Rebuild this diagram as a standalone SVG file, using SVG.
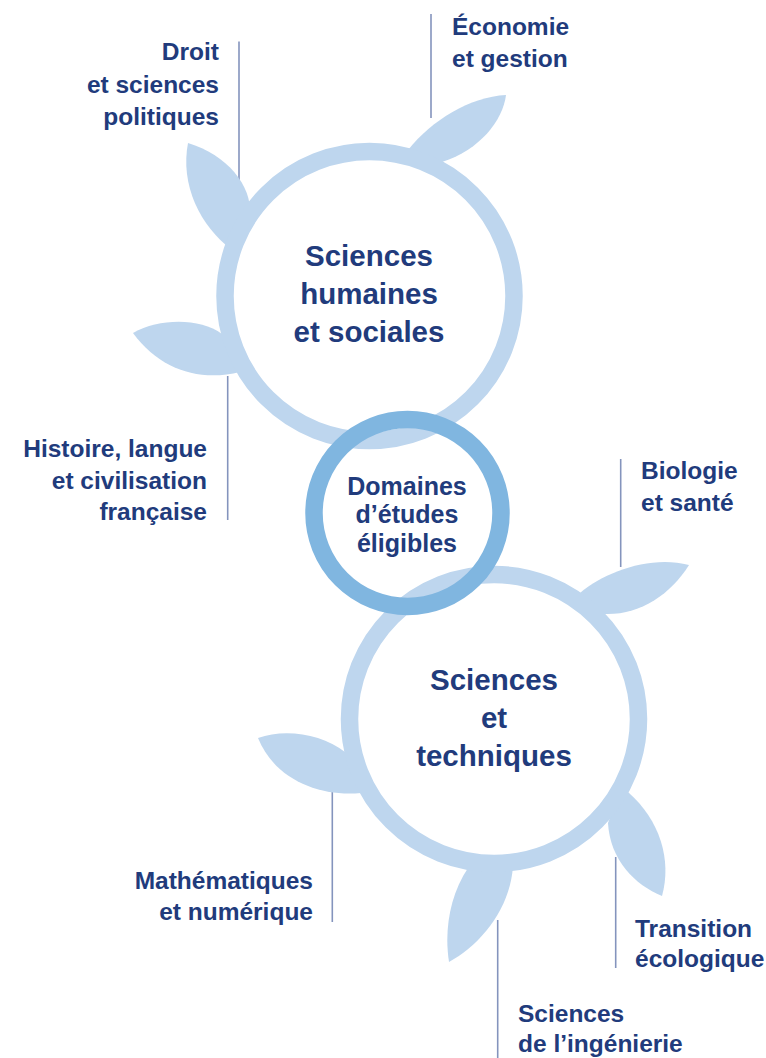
<svg xmlns="http://www.w3.org/2000/svg" width="766" height="1058" viewBox="0 0 766 1058">
<style>
  .ring { fill: none; stroke: #bed6ee; stroke-width: 17.5; }
  .ring-mid { fill: none; stroke: #80b6e0; stroke-width: 17.5; }
  .leaf { fill: #bed6ee; }
  .conn { stroke: #8494bd; stroke-width: 1.6; fill: none; }
  .lbl { font-family: "Liberation Sans", Arial, Helvetica, sans-serif; font-weight: bold; font-size: 24.5px; fill: #213b7c; }
  .big { font-family: "Liberation Sans", Arial, Helvetica, sans-serif; font-weight: bold; font-size: 29.5px; fill: #213b7c; text-anchor: middle; }
  .mid { font-family: "Liberation Sans", Arial, Helvetica, sans-serif; font-weight: bold; font-size: 25px; fill: #213b7c; text-anchor: middle; }
  .end { text-anchor: end; }
</style>
<rect width="766" height="1058" fill="#ffffff"/>

<g id="connectors">
  <line class="conn" x1="239" y1="41.5" x2="239" y2="182"/>
  <line class="conn" x1="431" y1="14" x2="431" y2="118"/>
  <line class="conn" x1="227.7" y1="376" x2="227.7" y2="520"/>
  <line class="conn" x1="620.7" y1="459" x2="620.7" y2="567"/>
  <line class="conn" x1="332.3" y1="787" x2="332.3" y2="922"/>
  <line class="conn" x1="615.7" y1="857" x2="615.7" y2="968"/>
  <line class="conn" x1="497.7" y1="920" x2="497.7" y2="1058"/>
</g>

<g id="node-shs">
  <path class="leaf" d="M188,143 C227,155 252,185 250,215 L232,250 C200,226 180,185 188,143 Z"/>
  <path class="leaf" d="M408,150 C432,120 470,97 506,95 C503,120 480,150 442,162 L425,160 Z"/>
  <path class="leaf" d="M133,333 C160,318 200,318 222,334 L240,350 L240,372 C200,382 160,370 133,333 Z"/>
  <circle class="ring" cx="369.5" cy="296" r="144.5"/>
  <text class="big" x="369" y="265.5">Sciences</text>
  <text class="big" x="369" y="303.5">humaines</text>
  <text class="big" x="369" y="341.5">et sociales</text>
</g>

<g id="node-st">
  <path class="leaf" d="M580,593 C605,572 650,555 689,565 C670,595 640,615 605,614 L592,612 Z"/>
  <path class="leaf" d="M258,738 C285,728 322,734 345,752 L358,780 L361,793 C320,797 275,780 258,738 Z"/>
  <path class="leaf" d="M608,823 C610,860 635,885 662,896 C672,860 660,820 628,792 L615,805 Z"/>
  <path class="leaf" d="M468,868 C450,895 444,930 449,962 C480,945 510,910 513,866 Z"/>
  <circle class="ring" cx="494" cy="719" r="144.5"/>
  <text class="big" x="494" y="689.5">Sciences</text>
  <text class="big" x="494" y="727.5">et</text>
  <text class="big" x="494" y="765.5">techniques</text>
</g>

<g id="node-domaines">
  <circle class="ring-mid" cx="407.5" cy="513" r="93.5"/>
  <text class="mid" x="407" y="494.5">Domaines</text>
  <text class="mid" x="407" y="523">d’études</text>
  <text class="mid" x="407" y="551.5">éligibles</text>
</g>

<g id="label-droit">
  <text class="lbl end" x="219" y="60">Droit</text>
  <text class="lbl end" x="219" y="92.5">et sciences</text>
  <text class="lbl end" x="219" y="124.5">politiques</text>
</g>
<g id="label-economie">
  <text class="lbl" x="452" y="35">Économie</text>
  <text class="lbl" x="452" y="67">et gestion</text>
</g>
<g id="label-histoire">
  <text class="lbl end" x="207" y="456.5">Histoire, langue</text>
  <text class="lbl end" x="207" y="488.5">et civilisation</text>
  <text class="lbl end" x="207" y="520">française</text>
</g>
<g id="label-biologie">
  <text class="lbl" x="641" y="479">Biologie</text>
  <text class="lbl" x="641" y="511">et santé</text>
</g>
<g id="label-maths">
  <text class="lbl end" x="313" y="889">Mathématiques</text>
  <text class="lbl end" x="313" y="920">et numérique</text>
</g>
<g id="label-transition">
  <text class="lbl" x="635" y="936.5">Transition</text>
  <text class="lbl" x="635" y="967">écologique</text>
</g>
<g id="label-ingenierie">
  <text class="lbl" x="518" y="1021.5">Sciences</text>
  <text class="lbl" x="518" y="1052">de l’ingénierie</text>
</g>
</svg>
